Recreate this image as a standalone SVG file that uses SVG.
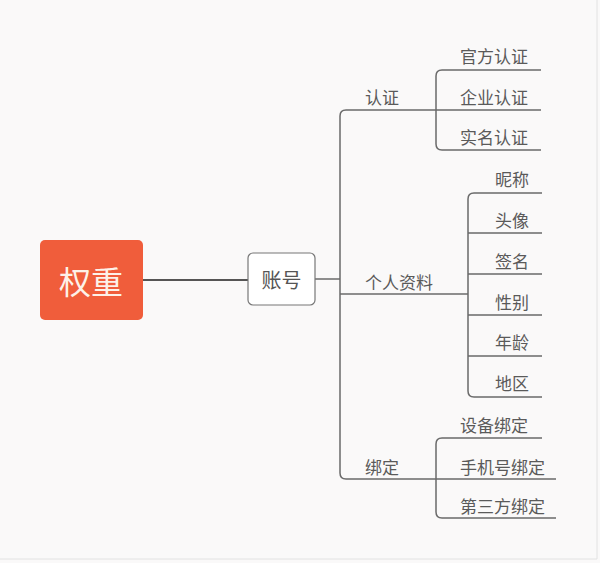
<svg xmlns="http://www.w3.org/2000/svg" width="600" height="563" viewBox="0 0 600 563">
<style>
.t{font-family:"Noto Sans CJK SC","Noto Sans",sans-serif;font-size:17px;fill:#5a5a5a;dominant-baseline:central}
.ln{fill:none;stroke:#6a6a6a;stroke-width:1.5}
</style>
<rect x="0" y="0" width="600" height="563" fill="#faf9f9"/>
<path d="M0 559 H597 V0" fill="none" stroke="#e2e2e2" stroke-width="1"/>
<g id="connectors">
<path d="M143 280 H248" fill="none" stroke="#555" stroke-width="2"/>
<path class="ln" d="M315 279 H340"/>
<path class="ln" d="M436 110 H346 Q340 110 340 116 V473 Q340 479 346 479 H436"/>
<path class="ln" d="M340 294 H468"/>
<path class="ln" d="M541 70 H442 Q436 70 436 76 V144 Q436 150 442 150 H541 M436 110 H541"/>
<path class="ln" d="M542 193 H474 Q468 193 468 199 V391 Q468 397 474 397 H542 M468 233 H542 M468 274 H542 M468 315 H542 M468 356 H542"/>
<path class="ln" d="M542 438 H442 Q436 438 436 444 V512 Q436 518 442 518 H556 M436 479 H556"/>
</g>
<g id="root">
<rect x="40" y="240" width="103" height="80" rx="5" fill="#f05d3b"/>
<text x="91" y="280" text-anchor="middle" style="font-family:'Noto Sans CJK SC',sans-serif;font-size:32px;fill:#fdf1e8;dominant-baseline:central">权重</text>
</g>
<g id="account">
<rect x="248" y="253" width="67" height="52" rx="5" fill="#ffffff" stroke="#777" stroke-width="1.2"/>
<text x="281.5" y="279" text-anchor="middle" style="font-family:'Noto Sans CJK SC',sans-serif;font-size:20px;fill:#555;dominant-baseline:central">账号</text>
</g>
<g id="renzheng"><text class="t" x="365" y="96.5">认证</text></g>
<g id="guanfang"><text class="t" x="460" y="55.5">官方认证</text></g>
<g id="qiye"><text class="t" x="460" y="96.5">企业认证</text></g>
<g id="shiming"><text class="t" x="460" y="136.5">实名认证</text></g>
<g id="geren"><text class="t" x="365" y="281.5">个人资料</text></g>
<g id="nicheng"><text class="t" x="495" y="178.5">昵称</text></g>
<g id="touxiang"><text class="t" x="495" y="219.5">头像</text></g>
<g id="qianming"><text class="t" x="495" y="260.5">签名</text></g>
<g id="xingbie"><text class="t" x="495" y="301.5">性别</text></g>
<g id="nianling"><text class="t" x="495" y="341.5">年龄</text></g>
<g id="diqu"><text class="t" x="495" y="382.5">地区</text></g>
<g id="bangding"><text class="t" x="365" y="466.5">绑定</text></g>
<g id="shebei"><text class="t" x="460" y="424.5">设备绑定</text></g>
<g id="shouji"><text class="t" x="460" y="466.5">手机号绑定</text></g>
<g id="disanfang"><text class="t" x="460" y="505.5">第三方绑定</text></g>
</svg>
